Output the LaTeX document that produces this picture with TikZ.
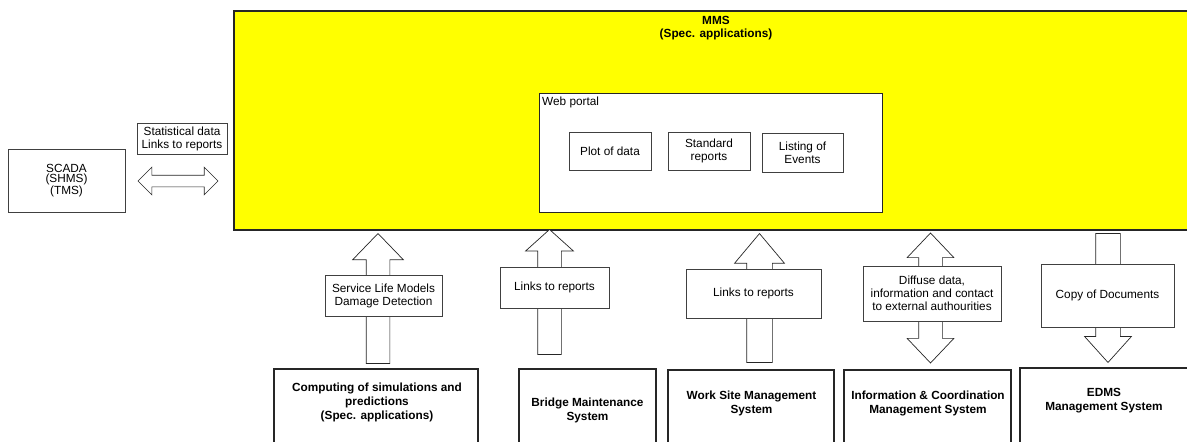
\documentclass[tikz,border=0pt]{standalone}
\usepackage{fontspec}
\setmainfont{Liberation Sans}
\usepackage{tikz}
\usetikzlibrary{shapes.arrows,positioning}
\definecolor{mmsyellow}{RGB}{255,255,0}
\newcommand{\diagfont}{\fontsize{11.8}{13}\selectfont}
\tikzset{
    mmsbox/.style={
        draw=black!85,
        line width=2pt,
        fill=mmsyellow,
        inner sep=0pt
    },
    portalbox/.style={
        draw=black!85,
        line width=0.8pt,
        fill=white,
        inner sep=0pt
    },
    % small boxes with labels
    labelbox/.style={
        draw=black!75,
        line width=0.7pt,
        fill=white,
        align=center,
        inner sep=1pt,
        font=\diagfont
    },
    sysbox/.style={
        draw=black!85,
        line width=1.8pt,
        inner sep=0pt
    },
    systext/.style={
        align=center,
        font=\fontsize{11.8}{14}\selectfont\bfseries
    },
    % block arrows
    blockarrow/.style={
        single arrow,
        draw=black!85,
        line width=0.7pt,
        fill=white,
        anchor=tip
    },
    dblarrow/.style={
        double arrow,
        draw=black!85,
        line width=0.7pt,
        fill=white
    }
}

\begin{document}
\begin{tikzpicture}[x=1pt, y=-1pt]
    \clip (0,0) rectangle (1187,442);
    \fill[white] (0,0) rectangle (1187,442);

    % MMS
    \node[mmsbox, minimum width=966, minimum height=219, anchor=north west] (mms) at (233,10) {};
    \node[systext, font=\fontsize{11.8}{13}\selectfont\bfseries] (mmstitle) at (716,28.5) {MMS\\(Spec. applications)};

    % web portal
    \node[portalbox, minimum width=343, minimum height=119, anchor=north west] (portal) at (539,93) {};
    \node[font=\diagfont, anchor=west, inner sep=0pt] (portaltitle) at (542,102) {Web portal};
    \node[labelbox, minimum width=82, minimum height=38] (plot) at (610,151) {Plot of data};
    \node[labelbox, minimum width=82, minimum height=38] (standard) at (709,151) {Standard\\reports};
    \node[labelbox, minimum width=81, minimum height=39] (listing) at (802.5,152.5) {Listing of\\Events};

    % SCADA
    \node[labelbox, minimum width=117, minimum height=63, font=\fontsize{11.8}{10.8}\selectfont] (scada) at (66.5,180.5) {SCADA\\(SHMS)\\(TMS)};
    \node[dblarrow, inner sep=5.5, minimum height=80, double arrow head extend=8, double arrow tip angle=90] (scadaarrow) at (178,181) {};
    \node[labelbox, minimum width=90, minimum height=31] (stat) at (182,139) {Statistical data\\Links to reports};

    % arrows to and from MMS
    \node[blockarrow, shape border rotate=90, inner sep=11.5, minimum height=130, single arrow head extend=13.5, single arrow tip angle=88] (arrcomp) at (378,233) {};
    \node[blockarrow, shape border rotate=90, inner sep=11.5, minimum height=125, single arrow head extend=12, single arrow tip angle=96] (arrbridge) at (549.5,229) {};
    \node[blockarrow, shape border rotate=90, inner sep=12.5, minimum height=129, single arrow head extend=12, single arrow tip angle=80] (arrwork) at (759.5,233) {};
    \node[dblarrow, shape border rotate=90, inner sep=11.5, minimum height=130, double arrow head extend=11.5, double arrow tip angle=87] (arrinfo) at (930.5,298) {};
    \node[blockarrow, shape border rotate=270, inner sep=12, minimum height=129, single arrow head extend=11, single arrow tip angle=84] (arredms) at (1108,363) {};

    \node[labelbox, minimum width=117, minimum height=41] (svc) at (383.5,295.5) {Service Life Models\\Damage Detection};
    \node[labelbox, minimum width=109, minimum height=41] (linksa) at (554.5,287.5) {Links to reports};
    \node[labelbox, minimum width=135, minimum height=49] (linksb) at (753.5,293.5) {Links to reports};
    \node[labelbox, minimum width=138, minimum height=55] (diffuse) at (932,293.5) {Diffuse data,\\information and contact\\to external authourities};
    \node[labelbox, minimum width=133, minimum height=63] (copy) at (1107.5,295.5) {Copy of Documents};

    % systems
    \node[sysbox, minimum width=204, minimum height=110, anchor=north] (comp) at (376,368) {};
    \node[sysbox, minimum width=137, minimum height=110, anchor=north] (bridge) at (587.5,368) {};
    \node[sysbox, minimum width=166, minimum height=110, anchor=north] (work) at (751,369) {};
    \node[sysbox, minimum width=167, minimum height=110, anchor=north] (info) at (927.5,369) {};
    \node[sysbox, minimum width=180, minimum height=110, anchor=north] (edms) at (1110,367) {};

    \node[systext] (comptext) at (377,402.5) {Computing of simulations and\\predictions\\(Spec. applications)};
    \node[systext] (bridgetext) at (587.5,410) {Bridge Maintenance\\System};
    \node[systext] (worktext) at (751.5,403) {Work Site Management\\System};
    \node[systext] (infotext) at (928,403) {Information \& Coordination\\Management System};
    \node[systext] (edmstext) at (1104,401) {EDMS\\Management System};
\end{tikzpicture}
\end{document}
